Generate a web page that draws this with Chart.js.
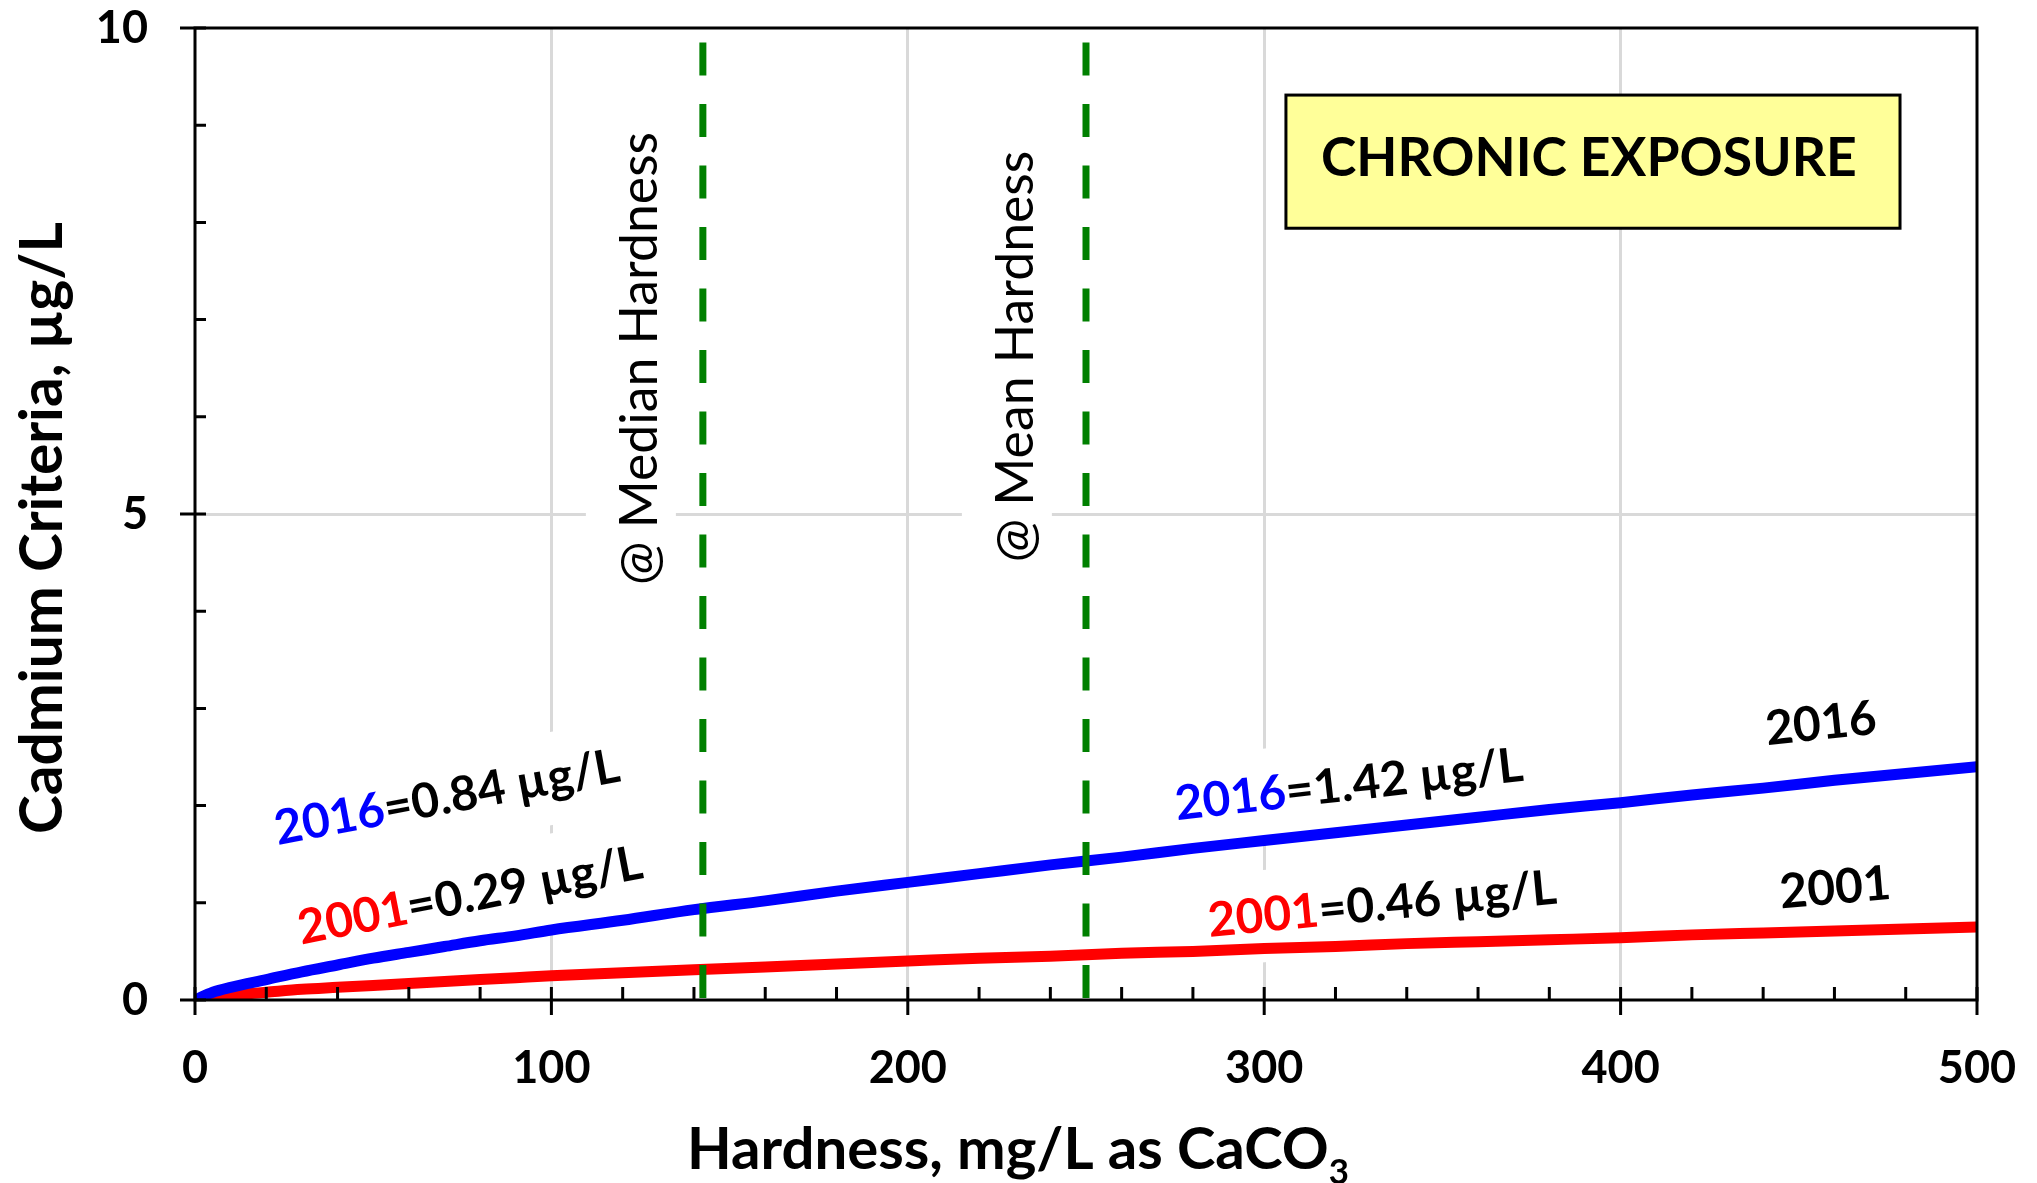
<!DOCTYPE html>
<html>
<head>
<meta charset="utf-8">
<script src="https://cdn.jsdelivr.net/npm/chart.js"></script>
<style>
  html, body { margin: 0; padding: 0; background: #fff; }
  #wrap { width: 2037px; height: 1183px; }
</style>
</head>
<body>
<div id="wrap"><canvas id="cdChart" width="2037" height="1183"></canvas></div>
<script>
// values
const hardness = [0, 5, 10, 20, 30, 40, 50, 60, 70, 80, 90, 100, 120, 140, 160, 180, 200, 220, 240, 260, 280, 300, 320, 340, 360, 380, 400, 420, 440, 460, 480, 500];
const criteria2016 = [0, 0.08, 0.13, 0.21, 0.29, 0.36, 0.43, 0.49, 0.55, 0.61, 0.66, 0.72, 0.82, 0.93, 1.02, 1.12, 1.21, 1.30, 1.39, 1.47, 1.56, 1.64, 1.72, 1.80, 1.88, 1.96, 2.03, 2.11, 2.18, 2.26, 2.33, 2.40];
const criteria2001 = [0, 0.03, 0.05, 0.08, 0.11, 0.13, 0.15, 0.17, 0.19, 0.21, 0.23, 0.25, 0.28, 0.31, 0.34, 0.37, 0.40, 0.43, 0.45, 0.48, 0.50, 0.53, 0.55, 0.58, 0.60, 0.62, 0.64, 0.67, 0.69, 0.71, 0.73, 0.75];
const medianHardness = 142.5;
const meanHardness = 250;
const refLineTop = 9.85;

const xTicks = [0, 100, 200, 300, 400, 500];
const yTicks = [0, 5, 10];
const xMinorStep = 20;
const yMinorStep = 1;

const FONT = 'Lato, "Open Sans", sans-serif';

// text notes placed in data coordinates
const notes = [
  { parts: [['2016', '#0000ff'], ['=0.84 µg/L', '#000']], x: 70.7, y: 2.08, angle: -10.5, box: true },
  { parts: [['2001', '#ff0000'], ['=0.29 µg/L', '#000']], x: 77.2, y: 1.07, angle: -11, box: true },
  { parts: [['2016', '#0000ff'], ['=1.42 µg/L', '#000']], x: 323.8, y: 2.21, angle: -6.5, box: true },
  { parts: [['2001', '#ff0000'], ['=0.46 µg/L', '#000']], x: 333.1, y: 0.98, angle: -5.5, box: true },
  { parts: [['2016', '#000']], x: 456.2, y: 2.84, angle: -6, box: false },
  { parts: [['2001', '#000']], x: 460.2, y: 1.15, angle: -5, box: false }
];
const vNotes = [
  { text: '@ Median Hardness', x: 129.6, y: 6.6 },
  { text: '@ Mean Hardness', x: 235.1, y: 6.62 }
];

function fitSize(ctx, text, weight, target) {
  ctx.font = weight + ' 100px ' + FONT;
  return 100 * target / ctx.measureText(text).width;
}

const annotate = {
  id: 'annotate',
  beforeDatasetsDraw(chart) {
    const ctx = chart.ctx, xs = chart.scales.x, ys = chart.scales.y;

    // rotated hardness labels with white backing
    const vSize = fitSize(ctx, vNotes[0].text, 'normal', 453);
    vNotes.forEach(n => {
      ctx.save();
      ctx.translate(xs.getPixelForValue(n.x), ys.getPixelForValue(n.y));
      ctx.rotate(-Math.PI / 2);
      ctx.font = 'normal ' + vSize + 'px ' + FONT;
      const w = ctx.measureText(n.text).width;
      ctx.fillStyle = '#fff';
      ctx.fillRect(-w / 2 - 15, -71, w + 30, 90);
      ctx.fillStyle = '#000';
      ctx.textAlign = 'center';
      ctx.textBaseline = 'alphabetic';
      ctx.fillText(n.text, 0, 0);
      ctx.restore();
    });

    // sloped value labels
    const size = fitSize(ctx, '2016=0.84 µg/L', 'bold', 350);
    notes.forEach(n => {
      ctx.save();
      ctx.translate(xs.getPixelForValue(n.x), ys.getPixelForValue(n.y));
      ctx.rotate(n.angle * Math.PI / 180);
      ctx.font = 'bold ' + size + 'px ' + FONT;
      const widths = n.parts.map(p => ctx.measureText(p[0]).width);
      const total = widths.reduce((a, b) => a + b, 0);
      if (n.box) {
        ctx.fillStyle = '#fff';
        ctx.fillRect(-total / 2 - 10, -size / 2 - 22, total + 20, size + 44);
      }
      ctx.textBaseline = 'middle';
      ctx.textAlign = 'left';
      let x = -total / 2;
      n.parts.forEach((p, i) => {
        ctx.fillStyle = p[1];
        ctx.fillText(p[0], x, 0);
        x += widths[i];
      });
      ctx.restore();
    });
  },
  afterDraw(chart) {
    const ctx = chart.ctx, xs = chart.scales.x, ys = chart.scales.y, a = chart.chartArea;
    ctx.save();
    ctx.strokeStyle = '#000';
    ctx.lineWidth = 3;

    // frame
    ctx.strokeRect(a.left, a.top, a.right - a.left, a.bottom - a.top);

    // x ticks: major crossing, minor inside
    ctx.beginPath();
    for (let v = xTicks[0]; v <= xTicks[xTicks.length - 1]; v += xMinorStep) {
      const px = xs.getPixelForValue(v);
      const major = xTicks.includes(v);
      ctx.moveTo(px, a.bottom - 13);
      ctx.lineTo(px, major ? a.bottom + 15 : a.bottom);
    }
    // y ticks
    for (let v = yTicks[0]; v <= yTicks[yTicks.length - 1]; v += yMinorStep) {
      const py = ys.getPixelForValue(v);
      const major = yTicks.includes(v);
      ctx.moveTo(major ? a.left - 15 : a.left, py);
      ctx.lineTo(a.left + 11, py);
    }
    ctx.stroke();

    // chronic exposure box
    const bx0 = xs.getPixelForValue(306.1), bx1 = xs.getPixelForValue(478.4);
    const by0 = ys.getPixelForValue(9.31), by1 = ys.getPixelForValue(7.94);
    ctx.fillStyle = '#ffff99';
    ctx.fillRect(bx0, by0, bx1 - bx0, by1 - by0);
    ctx.strokeRect(bx0, by0, bx1 - bx0, by1 - by0);
    const bSize = fitSize(ctx, 'CHRONIC EXPOSURE', 'bold', 536);
    ctx.font = 'bold ' + bSize + 'px ' + FONT;
    ctx.fillStyle = '#000';
    ctx.textAlign = 'center';
    ctx.textBaseline = 'middle';
    ctx.fillText('CHRONIC EXPOSURE', xs.getPixelForValue(391.1), ys.getPixelForValue(8.69) + 3);

    // y axis title
    const yTitle = 'Cadmium Criteria, µg/L';
    const ySize = fitSize(ctx, yTitle, 'bold', 612);
    ctx.save();
    ctx.translate(62, 528);
    ctx.rotate(-Math.PI / 2);
    ctx.font = 'bold ' + ySize + 'px ' + FONT;
    ctx.textAlign = 'center';
    ctx.textBaseline = 'alphabetic';
    ctx.fillText(yTitle, 0, 0);
    ctx.restore();

    // x axis title with subscript
    const xMain = 'Hardness, mg/L as CaCO', xSub = '3';
    ctx.font = 'bold 100px ' + FONT;
    const wm = ctx.measureText(xMain).width;
    ctx.font = 'bold 60px ' + FONT;
    const ws = ctx.measureText(xSub).width;
    const s = 100 * 662 / (wm + ws);
    ctx.font = 'bold ' + s + 'px ' + FONT;
    const wMain = ctx.measureText(xMain).width;
    ctx.font = 'bold ' + (s * 0.6) + 'px ' + FONT;
    const wSub = ctx.measureText(xSub).width;
    const x0 = 1018 - (wMain + wSub) / 2;
    ctx.textAlign = 'left';
    ctx.textBaseline = 'alphabetic';
    ctx.font = 'bold ' + s + 'px ' + FONT;
    ctx.fillText(xMain, x0, 1169);
    ctx.font = 'bold ' + (s * 0.6) + 'px ' + FONT;
    ctx.fillText(xSub, x0 + wMain, 1169 + 0.25 * s);
    ctx.restore();
  }
};

const tickFont = { family: FONT, size: 45, weight: 'bold' };

// keep the plot box fixed: no extra room for edge labels
function fixBox(s, w, h) {
  if (w !== null) s.width = w;
  if (h !== null) s.height = h;
  s.paddingTop = 0; s.paddingBottom = 0; s.paddingLeft = 0; s.paddingRight = 0;
}

new Chart(document.getElementById('cdChart'), {
  type: 'line',
  data: {
    datasets: [
      {
        label: 'Median hardness',
        data: [{ x: medianHardness, y: refLineTop }, { x: medianHardness, y: 0 }],
        borderColor: '#008000', borderWidth: 7, borderDash: [33, 28.5],
        pointRadius: 0, order: 0
      },
      {
        label: 'Mean hardness',
        data: [{ x: meanHardness, y: refLineTop }, { x: meanHardness, y: 0 }],
        borderColor: '#008000', borderWidth: 7, borderDash: [33, 28.5],
        pointRadius: 0, order: 0
      },
      {
        label: '2016',
        data: hardness.map((h, i) => ({ x: h, y: criteria2016[i] })),
        borderColor: '#0000ff', borderWidth: 11, pointRadius: 0,
        cubicInterpolationMode: 'monotone', order: 1
      },
      {
        label: '2001',
        data: hardness.map((h, i) => ({ x: h, y: criteria2001[i] })),
        borderColor: '#ff0000', borderWidth: 11, pointRadius: 0,
        cubicInterpolationMode: 'monotone', order: 2
      }
    ]
  },
  options: {
    responsive: false,
    animation: false,
    layout: { padding: { top: 28, right: 60, left: 0, bottom: 0 } },
    plugins: { legend: { display: false }, tooltip: { enabled: false } },
    scales: {
      x: {
        type: 'linear',
        min: xTicks[0], max: xTicks[xTicks.length - 1],
        afterBuildTicks: s => { s.ticks = xTicks.map(v => ({ value: v })); },
        afterFit: s => fixBox(s, null, 183),
        ticks: { font: tickFont, color: '#000', padding: 41, maxRotation: 0, autoSkip: false },
        grid: {
          color: c => (c.tick && c.tick.value > xTicks[0] && c.tick.value < xTicks[xTicks.length - 1]) ? '#d9d9d9' : 'rgba(0,0,0,0)',
          lineWidth: 3, drawTicks: false
        },
        border: { display: false }
      },
      y: {
        type: 'linear',
        min: yTicks[0], max: yTicks[yTicks.length - 1],
        afterBuildTicks: s => { s.ticks = yTicks.map(v => ({ value: v })); },
        afterFit: s => fixBox(s, 195, null),
        ticks: { font: tickFont, color: '#000', padding: 47, autoSkip: false },
        grid: {
          color: c => (c.tick && c.tick.value > yTicks[0] && c.tick.value < yTicks[yTicks.length - 1]) ? '#d9d9d9' : 'rgba(0,0,0,0)',
          lineWidth: 3, drawTicks: false
        },
        border: { display: false }
      }
    }
  },
  plugins: [annotate]
});
</script>
</body>
</html>
